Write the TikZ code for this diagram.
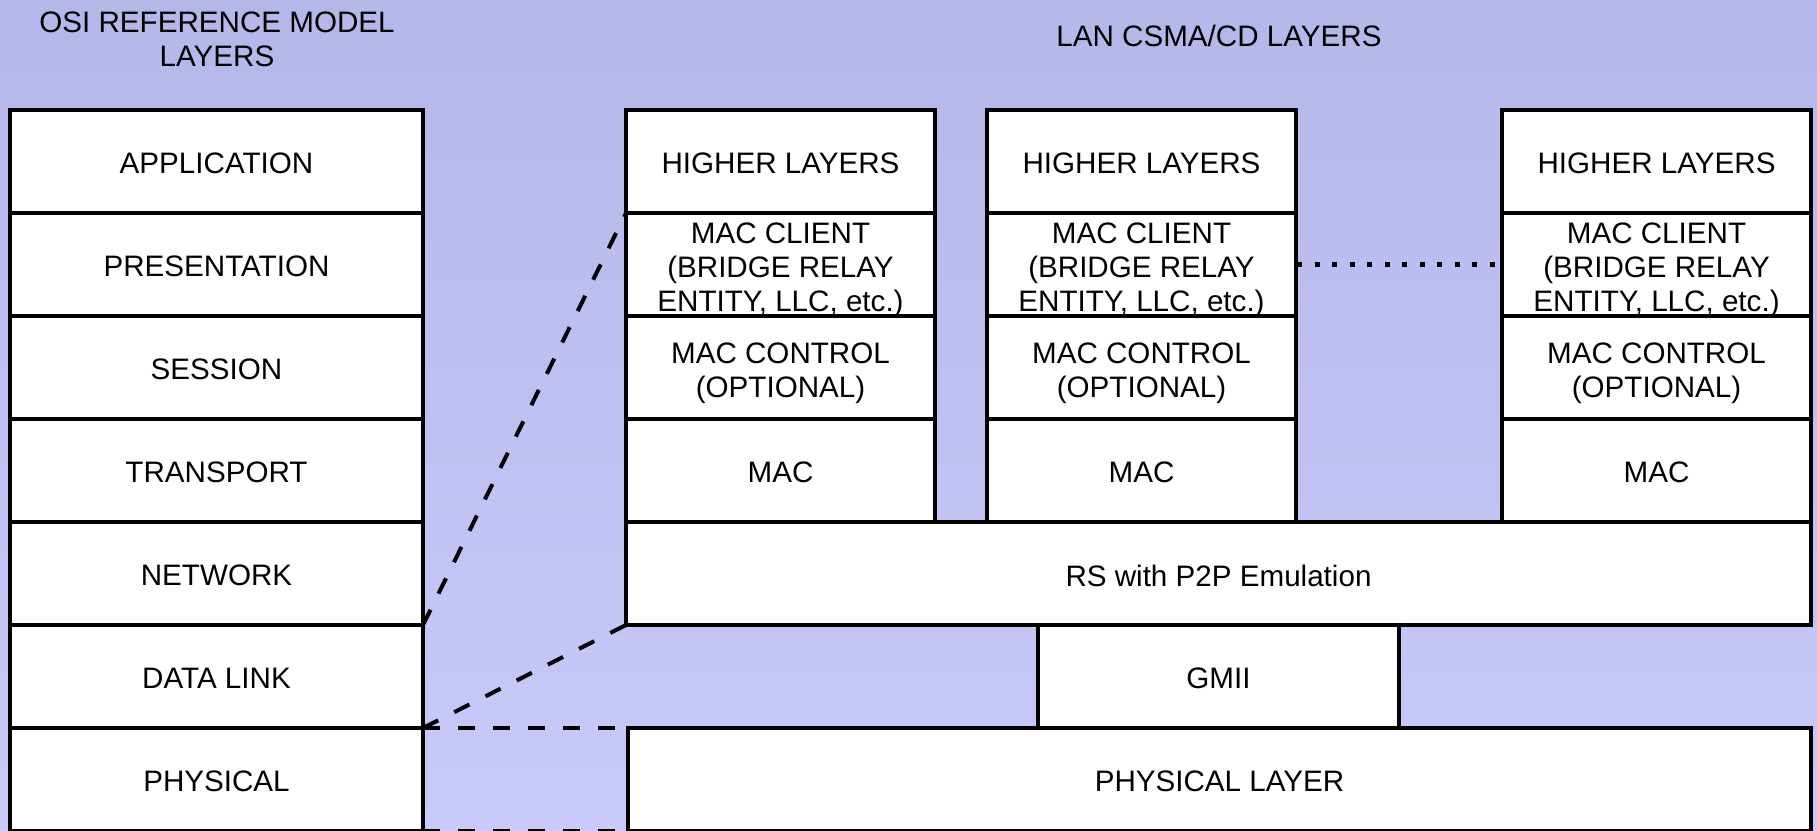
\documentclass[tikz,border=0pt]{standalone}
\usepackage{fontspec}
\setmainfont{Liberation Sans}
\newcommand\diafont{\fontsize{29.6}{34}\selectfont}
% cell text, nudged a little downward inside its box
\newcommand\lowered[2]{\raisebox{-#1}[\height][\depth]{\begin{tabular}{@{}c@{}}#2\end{tabular}}}
\newcommand\cell[1]{\raisebox{-2pt}[\height][\depth]{#1}}
\definecolor{bgtop}{RGB}{182,183,233}
\definecolor{bgbot}{RGB}{201,201,250}
\begin{document}
\begin{tikzpicture}[x=1pt,y=-1pt,
  layer/.style={draw=black, line width=3.5pt, fill=white, inner sep=0pt, outer sep=0pt,
                align=center, anchor=north west, font=\diafont},
  osirow/.style={layer, minimum width=413pt, minimum height=103pt},
  stackrow/.style={layer, minimum width=309pt, minimum height=103pt},
  link/.style={line width=4pt, dash pattern=on 17pt off 18pt},
  dots/.style={line width=4.5pt, dash pattern=on 5pt off 12.5pt, dash phase=-1pt},
  heading/.style={font=\diafont, align=center, inner sep=0pt}]

% background
\shade[top color=bgtop, bottom color=bgbot] (0,0) rectangle (1817,830);
\useasboundingbox (0,0) rectangle (1817,830);

% headings
\node[heading] (osititle) at (217,39) {OSI REFERENCE MODEL\\LAYERS};
\node[heading] (lantitle) at (1219,36) {LAN CSMA/CD LAYERS};

% OSI reference model stack
\node[osirow] (app)   at (10,110) {\cell{APPLICATION}};
\node[osirow] (pres)  at (10,213) {\cell{PRESENTATION}};
\node[osirow] (sess)  at (10,316) {\cell{SESSION}};
\node[osirow] (trans) at (10,419) {\cell{TRANSPORT}};
\node[osirow] (net)   at (10,522) {\cell{NETWORK}};
\node[osirow] (dl)    at (10,625) {\cell{DATA LINK}};
\node[osirow] (phys)  at (10,728) {\cell{PHYSICAL}};

% station stacks
\node[stackrow] (s1hi)  at (626,110) {\cell{HIGHER LAYERS}};
\node[stackrow] (s1cl)  at (626,213) {\lowered{6pt}{MAC CLIENT\\(BRIDGE RELAY\\ENTITY, LLC, etc.)}};
\node[stackrow] (s1ctl) at (626,316) {\lowered{6pt}{MAC CONTROL\\(OPTIONAL)}};
\node[stackrow] (s1mac) at (626,419) {\cell{MAC}};

\node[stackrow] (s2hi)  at (987,110) {\cell{HIGHER LAYERS}};
\node[stackrow] (s2cl)  at (987,213) {\lowered{6pt}{MAC CLIENT\\(BRIDGE RELAY\\ENTITY, LLC, etc.)}};
\node[stackrow] (s2ctl) at (987,316) {\lowered{6pt}{MAC CONTROL\\(OPTIONAL)}};
\node[stackrow] (s2mac) at (987,419) {\cell{MAC}};

\node[stackrow] (s3hi)  at (1502,110) {\cell{HIGHER LAYERS}};
\node[stackrow] (s3cl)  at (1502,213) {\lowered{6pt}{MAC CLIENT\\(BRIDGE RELAY\\ENTITY, LLC, etc.)}};
\node[stackrow] (s3ctl) at (1502,316) {\lowered{6pt}{MAC CONTROL\\(OPTIONAL)}};
\node[stackrow] (s3mac) at (1502,419) {\cell{MAC}};

% shared lower layers
\node[layer, minimum width=1185pt, minimum height=103pt] (rs)   at (626,522)  {\cell{RS with P2P Emulation}};
\node[layer, minimum width=361pt,  minimum height=103pt] (gmii) at (1038,625) {\cell{GMII}};
\node[layer, minimum width=1183pt, minimum height=103pt] (phy)  at (628,728)  {\cell{PHYSICAL LAYER}};

% mapping between OSI layers and LAN layers
\draw[link] (dl.north east) -- (s1cl.north west);
\draw[link] (phys.north east) -- (rs.south west);
\draw[link] (phys.north east) -- (phy.north west);
\draw[link] (phys.south east) -- (phy.south west);

% further stations
\draw[dots] (s2cl.east) -- (s3cl.west);
\end{tikzpicture}
\end{document}
